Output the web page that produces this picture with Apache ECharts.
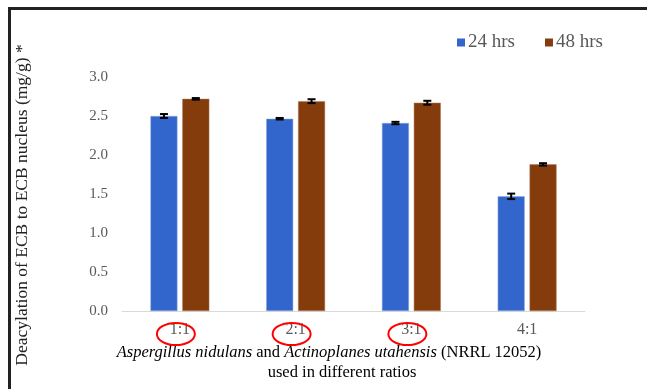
<!DOCTYPE html>
<html>
<head>
<meta charset="utf-8">
<script src="https://cdn.jsdelivr.net/npm/echarts@6/dist/echarts.min.js"></script>
<style>
  html, body { margin: 0; padding: 0; background: #fff; }
  #chart { width: 647px; height: 389px; }
</style>
</head>
<body>
<div id="chart"></div>
<script>
// Fungal/actinomycete co-culture ratios and deacylation yield
const categories = ['1:1', '2:1', '3:1', '4:1'];
const values24 = [2.50, 2.465, 2.41, 1.47];
const values48 = [2.72, 2.69, 2.67, 1.88];
const err24 = [0.025, 0.01, 0.015, 0.035];
const err48 = [0.01, 0.025, 0.025, 0.015];
const highlighted = ['1:1', '2:1', '3:1'];
const yTicks = [0, 0.5, 1.0, 1.5, 2.0, 2.5, 3.0];

const SERIF = '"Liberation Serif", "DejaVu Serif", serif';
const BLUE = '#3366cc';
const BROWN = '#843c0c';
const BAR_W = 27;
const BAR_GAP = 0.18;

const chart = echarts.init(document.getElementById('chart'));

// Error bar drawer, shifted to sit over one bar of a pair
function errorBars(values, errs, side) {
  return {
    type: 'custom',
    z: 5,
    silent: true,
    data: values.map((v, i) => [i, v, errs[i]]),
    renderItem(params, api) {
      const i = api.value(0), v = api.value(1), e = api.value(2);
      const shift = side * BAR_W * (1 + BAR_GAP) / 2;
      const top = api.coord([i, v + e]);
      const bot = api.coord([i, v - e]);
      const x = top[0] + shift;
      const cap = 4;
      const style = { stroke: '#000', lineWidth: 2 };
      return {
        type: 'group',
        children: [
          { type: 'line', shape: { x1: x, y1: top[1], x2: x, y2: bot[1] }, style },
          { type: 'line', shape: { x1: x - cap, y1: top[1], x2: x + cap, y2: top[1] }, style },
          { type: 'line', shape: { x1: x - cap, y1: bot[1], x2: x + cap, y2: bot[1] }, style }
        ]
      };
    }
  };
}

const option = {
  animation: false,
  backgroundColor: '#fff',
  grid: { left: 122, right: 62, top: 77, bottom: 78 },
  legend: {
    top: 28,
    left: 452,
    itemWidth: 8,
    itemHeight: 8,
    itemGap: 30,
    icon: 'rect',
    itemStyle: { borderWidth: 0 },
    textStyle: { fontFamily: SERIF, fontSize: 19, color: '#595959', padding: [0, 0, 0, -2] },
    data: ['24 hrs', '48 hrs']
  },
  xAxis: {
    type: 'category',
    data: categories,
    axisLine: { lineStyle: { color: '#d9d9d9', width: 1 } },
    axisTick: { show: false },
    axisLabel: { fontFamily: SERIF, fontSize: 16, color: '#595959', margin: 11 }
  },
  yAxis: {
    type: 'value',
    min: yTicks[0],
    max: yTicks[yTicks.length - 1],
    interval: 0.5,
    splitLine: { show: false },
    axisLine: { show: false },
    axisTick: { show: false },
    axisLabel: {
      fontFamily: SERIF, fontSize: 15, color: '#595959', margin: 14,
      formatter: v => v.toFixed(1)
    }
  },
  series: [
    {
      name: '24 hrs',
      type: 'bar',
      data: values24,
      barWidth: BAR_W,
      barGap: (BAR_GAP * 100) + '%',
      itemStyle: { color: BLUE, borderColor: '#8fa9e0', borderWidth: 0.5 }
    },
    {
      name: '48 hrs',
      type: 'bar',
      data: values48,
      barWidth: BAR_W,
      itemStyle: { color: BROWN, borderColor: '#b07a5a', borderWidth: 0.5 }
    },
    errorBars(values24, err24, -1),
    errorBars(values48, err48, 1),
    {
      // red ovals circling the highlighted ratio labels
      type: 'custom',
      silent: true,
      clip: false,
      z: 10,
      data: highlighted.map(c => [categories.indexOf(c), 0]),
      renderItem(params, api) {
        const p = api.coord([api.value(0), api.value(1)]);
        return {
          type: 'ellipse',
          shape: { cx: p[0] - 4, cy: p[1] + 23, rx: 19, ry: 11 },
          style: { fill: 'none', stroke: '#ff0000', lineWidth: 2 }
        };
      }
    }
  ],
  graphic: [
    {
      type: 'polyline',
      shape: { points: [[9.5, 389], [9.5, 8.5], [647, 8.5]] },
      style: { stroke: '#222', lineWidth: 3, fill: 'none' }
    },
    {
      type: 'text',
      x: 13,
      y: 205,
      rotation: Math.PI / 2,
      style: {
        text: 'Deacylation of ECB to ECB nucleus (mg/g) *',
        fontFamily: SERIF,
        fontSize: 17.5,
        fill: '#222',
        align: 'center',
        verticalAlign: 'top'
      }
    },
    {
      type: 'text',
      x: 329,
      y: 353,
      style: {
        text: '{i|Aspergillus nidulans}{n| and }{i|Actinoplanes utahensis}{n| (NRRL 12052)}',
        align: 'center',
        verticalAlign: 'middle',
        rich: {
          i: { fontFamily: SERIF, fontSize: 16.5, fontStyle: 'italic', fill: '#000' },
          n: { fontFamily: SERIF, fontSize: 16.5, fill: '#000' }
        }
      }
    },
    {
      type: 'text',
      x: 342,
      y: 373,
      style: {
        text: 'used in different ratios',
        fontFamily: SERIF,
        fontSize: 16.5,
        fill: '#000',
        align: 'center',
        verticalAlign: 'middle'
      }
    }
  ]
};

chart.setOption(option);
</script>
</body>
</html>
